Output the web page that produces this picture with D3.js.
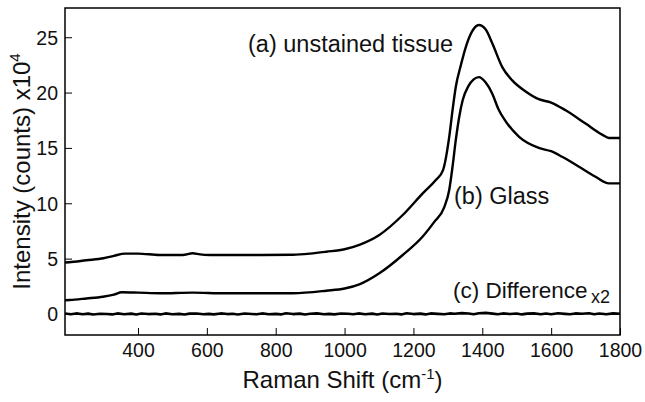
<!DOCTYPE html>
<html><head><meta charset="utf-8">
<script src="https://cdn.jsdelivr.net/npm/d3@7"></script>
<style>body{margin:0;background:#fff}svg{display:block}text{font-family:"Liberation Sans",Arial,Helvetica,sans-serif;fill:#111}</style>
</head><body><svg id="c" width="645" height="402"></svg>
<script>
const shiftA = [188,200,250,300,330,362,400,463,530,559,580,608,700,850,900,947,1000,1043,1101,1169,1227,1265,1286,1304,1314,1323,1338,1351,1370,1390,1410,1429,1458,1487,1526,1564,1600,1642,1700,1748,1768,1800];
const unstained = [4.65,4.67,4.85,5.03,5.25,5.45,5.45,5.33,5.33,5.48,5.38,5.33,5.33,5.35,5.45,5.62,5.85,6.25,7.14,8.94,10.9,12.1,13.0,16.0,18.5,20.5,22.5,24.0,25.5,26.1,25.7,24.45,22.3,21.1,20.1,19.4,19.1,18.4,17.2,16.2,15.9,15.9];
const shiftB = [188,202,250,298,330,353,400,463,559,650,850,947,1000,1043,1101,1169,1227,1260,1289,1304,1314,1323,1333,1343,1360,1375,1390,1410,1429,1447,1468,1507,1564,1600,1632,1681,1729,1768,1800];
const glass = [1.24,1.26,1.4,1.56,1.75,1.96,1.93,1.87,1.93,1.87,1.87,2.1,2.3,2.68,3.68,5.33,7.0,8.3,9.6,11.2,13.4,15.7,17.8,19.3,20.6,21.2,21.4,20.9,19.9,18.5,17.4,16.0,15.0,14.7,14.2,13.3,12.4,11.8,11.8];
const shiftC = [188,205,220,240,255,270,290,310,325,340,360,380,395,410,430,450,465,480,500,520,535,550,570,590,605,620,640,660,675,690,710,730,745,760,780,800,815,830,850,870,885,900,920,940,955,970,990,1010,1025,1040,1060,1080,1095,1110,1130,1150,1165,1180,1200,1220,1235,1250,1270,1290,1305,1320,1340,1360,1375,1390,1410,1430,1445,1460,1480,1500,1515,1530,1550,1570,1585,1600,1620,1640,1655,1670,1690,1710,1725,1740,1760,1780,1800];
const difference = [0.04,-0.03,0.05,-0.02,0.03,-0.05,0.02,0.0,-0.04,0.05,-0.02,0.03,-0.05,0.04,-0.01,0.02,-0.04,0.05,-0.02,0.01,-0.05,0.03,0.04,-0.03,0.01,-0.04,0.05,-0.01,0.02,-0.05,0.04,0.0,-0.03,0.05,-0.02,0.01,-0.04,0.06,-0.01,0.03,-0.05,0.02,0.05,-0.03,0.01,-0.04,0.04,0.02,-0.03,0.05,-0.02,0.03,-0.05,0.04,0.0,0.02,-0.04,0.06,-0.01,0.03,-0.04,0.05,0.01,-0.03,0.05,0.02,0.08,0.04,-0.02,0.06,0.1,0.03,-0.03,0.05,-0.01,0.04,-0.04,0.03,0.05,-0.02,0.04,-0.03,0.06,0.01,-0.03,0.05,0.02,0.07,-0.02,0.04,-0.03,0.05,0.02];
const xTicks = [400,600,800,1000,1200,1400,1600,1800];
const yTicks = [0,5,10,15,20,25];

const svg = d3.select('#c');
const L=65,R=620,T=8,B=335;
const x = d3.scaleLinear().domain([188,1800]).range([L,R]);
const y = d3.scaleLinear().domain([-1.9,27.64]).range([B,T]);

const g = svg.append('g');
const line = d3.line().x(d=>x(d[0])).y(d=>y(d[1])).curve(d3.curveMonotoneX);
function draw(xs, ys, w, c){
  g.append('path').datum(xs.map((v,i)=>[v,ys[i]])).attr('d',line.curve(c))
   .attr('fill','none').attr('stroke','#000').attr('stroke-width',w).attr('stroke-linejoin','round');
}
draw(shiftA, unstained, 2.4, d3.curveMonotoneX);
draw(shiftB, glass, 2.4, d3.curveMonotoneX);
draw(shiftC, difference, 2.6, d3.curveLinear);

// axes
const xa = svg.append('g').attr('transform',`translate(0,${B})`)
  .call(d3.axisBottom(x).tickValues(xTicks).tickFormat(d3.format('d')).tickSizeInner(-7).tickSizeOuter(0).tickPadding(8));
const ya = svg.append('g').attr('transform',`translate(${L},0)`)
  .call(d3.axisLeft(y).tickValues(yTicks).tickFormat(d3.format('d')).tickSizeInner(-7).tickSizeOuter(0).tickPadding(7));
[xa,ya].forEach(a=>{a.select('.domain').remove();a.selectAll('line').attr('stroke','#000').attr('stroke-width',1);
 a.selectAll('text').attr('font-size',19.5).attr('fill','#111').style('font-family','"Liberation Sans",Arial,sans-serif');});
ya.selectAll('text').attr('dy','0.36em');
svg.append('rect').attr('x',L).attr('y',T).attr('width',R-L).attr('height',B-T)
  .attr('fill','none').attr('stroke','#000').attr('stroke-width',1.5);

// axis titles
const xt = svg.append('text').attr('x',(L+R)/2).attr('y',388).attr('text-anchor','middle').attr('font-size',24);
xt.append('tspan').text('Raman Shift (cm');
xt.append('tspan').text('-1').attr('font-size',15).attr('dy',-9);
xt.append('tspan').text(')').attr('dy',9);
const yt = svg.append('text').attr('transform',`translate(30,${(T+B)/2}) rotate(-90)`).attr('text-anchor','middle').attr('font-size',24);
yt.append('tspan').text('Intensity (counts) x10');
yt.append('tspan').text('4').attr('font-size',15).attr('dy',-10);

// annotations
svg.append('text').attr('x',248).attr('y',52).attr('font-size',23.5).text('(a) unstained tissue');
svg.append('text').attr('x',454).attr('y',204).attr('font-size',23.5).text('(b) Glass');
svg.append('text').attr('x',453).attr('y',298).attr('font-size',22.5).text('(c) Difference');
svg.append('text').attr('x',591).attr('y',303).attr('font-size',18).text('x2');
</script></body></html>
